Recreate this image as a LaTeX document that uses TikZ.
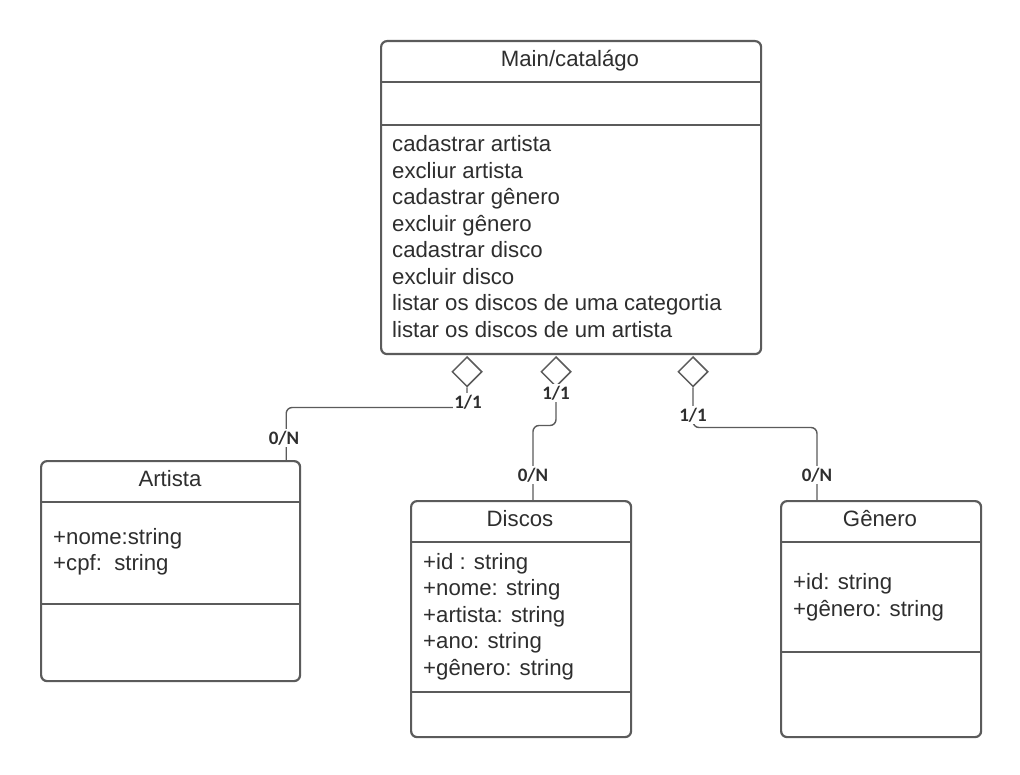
\documentclass[tikz,border=0pt]{standalone}
\usepackage{fontspec}
\setmainfont{Liberation Sans}
\newfontfamily\multfont{Carlito}
\usetikzlibrary{
  arrows.meta,
  shapes.geometric,
  positioning,
  calc
}
\definecolor{umlLine}{HTML}{5B5B5B}
\definecolor{umlText}{HTML}{2E2E2E}
\tikzset{
  classbox/.style={
    draw=umlLine, line width=2.2pt, rounded corners=6pt, fill=white,
    inner sep=0pt, anchor=north west
  },
  divline/.style={draw=umlLine, line width=2.2pt},
  ctitle/.style={font=\fontsize{22.2}{26.5}\selectfont, text=umlText, anchor=base, inner sep=0pt},
  member/.style={font=\fontsize{22.2}{26.5}\selectfont, text=umlText, anchor=base west, inner sep=0pt},
  aggr/.style={
    diamond, draw=umlLine, line width=1.5pt, fill=white,
    minimum width=30pt, minimum height=30pt, inner sep=0pt, anchor=north
  },
  assoc/.style={draw=umlLine, line width=1.4pt, rounded corners=6pt},
  mult/.style={font=\multfont\bfseries\fontsize{19}{19}\selectfont, text=umlText, fill=white, inner sep=1.5pt}
}

\begin{document}
\begin{tikzpicture}[x=1pt, y=-1pt]
  \useasboundingbox (0,0) rectangle (1020,775);

  % classes
  \node[classbox, minimum width=380pt, minimum height=313pt] (main) at (380,40) {};
  \draw[divline] ([yshift=-42pt]main.north west) -- ([yshift=-42pt]main.north east);
  \draw[divline] ([yshift=-85pt]main.north west) -- ([yshift=-85pt]main.north east);
  \node[ctitle] (mainT) at (570,67) {Main/catalágo};
  \foreach \txt [count=\i from 0] in {cadastrar artista, excliur artista, cadastrar gênero,
    excluir gênero, cadastrar disco, excluir disco, listar os discos de uma categortia,
    listar os discos de um artista}
    \node[member] (mainOp\i) at (392,{152+26.5*\i}) {\txt};

  \node[classbox, minimum width=259pt, minimum height=220pt] (artista) at (40,460) {};
  \draw[divline] ([yshift=-42pt]artista.north west) -- ([yshift=-42pt]artista.north east);
  \draw[divline] ([yshift=-144pt]artista.north west) -- ([yshift=-144pt]artista.north east);
  \node[ctitle] (artistaT) at (170,486) {Artista};
  \foreach \txt [count=\i from 0] in {+nome:string, +cpf:\ \ string}
    \node[member] (artistaAt\i) at (53,{544+26.5*\i}) {\txt};

  \node[classbox, minimum width=220pt, minimum height=236pt] (discos) at (410,500) {};
  \draw[divline] ([yshift=-42pt]discos.north west) -- ([yshift=-42pt]discos.north east);
  \draw[divline] ([yshift=-192pt]discos.north west) -- ([yshift=-192pt]discos.north east);
  \node[ctitle] (discosT) at (520,526) {Discos};
  \foreach \txt [count=\i from 0] in {+id : string, +nome: string, +artista: string,
    +ano: string, +gênero: string}
    \node[member] (discosAt\i) at (423,{569+26.5*\i}) {\txt};

  \node[classbox, minimum width=200pt, minimum height=236pt] (genero) at (780,500) {};
  \draw[divline] ([yshift=-42pt]genero.north west) -- ([yshift=-42pt]genero.north east);
  \draw[divline] ([yshift=-152pt]genero.north west) -- ([yshift=-152pt]genero.north east);
  \node[ctitle] (generoT) at (880,526) {Gênero};
  \foreach \txt [count=\i from 0] in {+id: string, +gênero: string}
    \node[member] (generoAt\i) at (793,{589.5+26.5*\i}) {\txt};

  % aggregations
  \node[aggr] (d1) at (467,356) {};
  \node[aggr] (d2) at (556,356) {};
  \node[aggr] (d3) at (693,356) {};
  \coordinate (artIn) at ([xshift=-15pt]artista.north east);
  \coordinate (discIn) at ([xshift=123pt]discos.north west);
  \coordinate (genIn) at ([xshift=37pt]genero.north west);

  \draw[assoc] (d1.south) -- ++(0,20) -| (artIn);
  \draw[assoc] (d2.south) -- ++(0,38) -| (discIn);
  \draw[assoc] (d3.south) -- ++(0,40) -| (genIn);

  % multiplicities
  \node[mult] (m1) at (468,402) {1/1};
  \node[mult] (m2) at (556,393) {1/1};
  \node[mult] (m3) at (693,415) {1/1};
  \node[mult] (n1) at (284,438) {0/N};
  \node[mult] (n2) at (533,475) {0/N};
  \node[mult] (n3) at (817,475) {0/N};
\end{tikzpicture}
\end{document}
